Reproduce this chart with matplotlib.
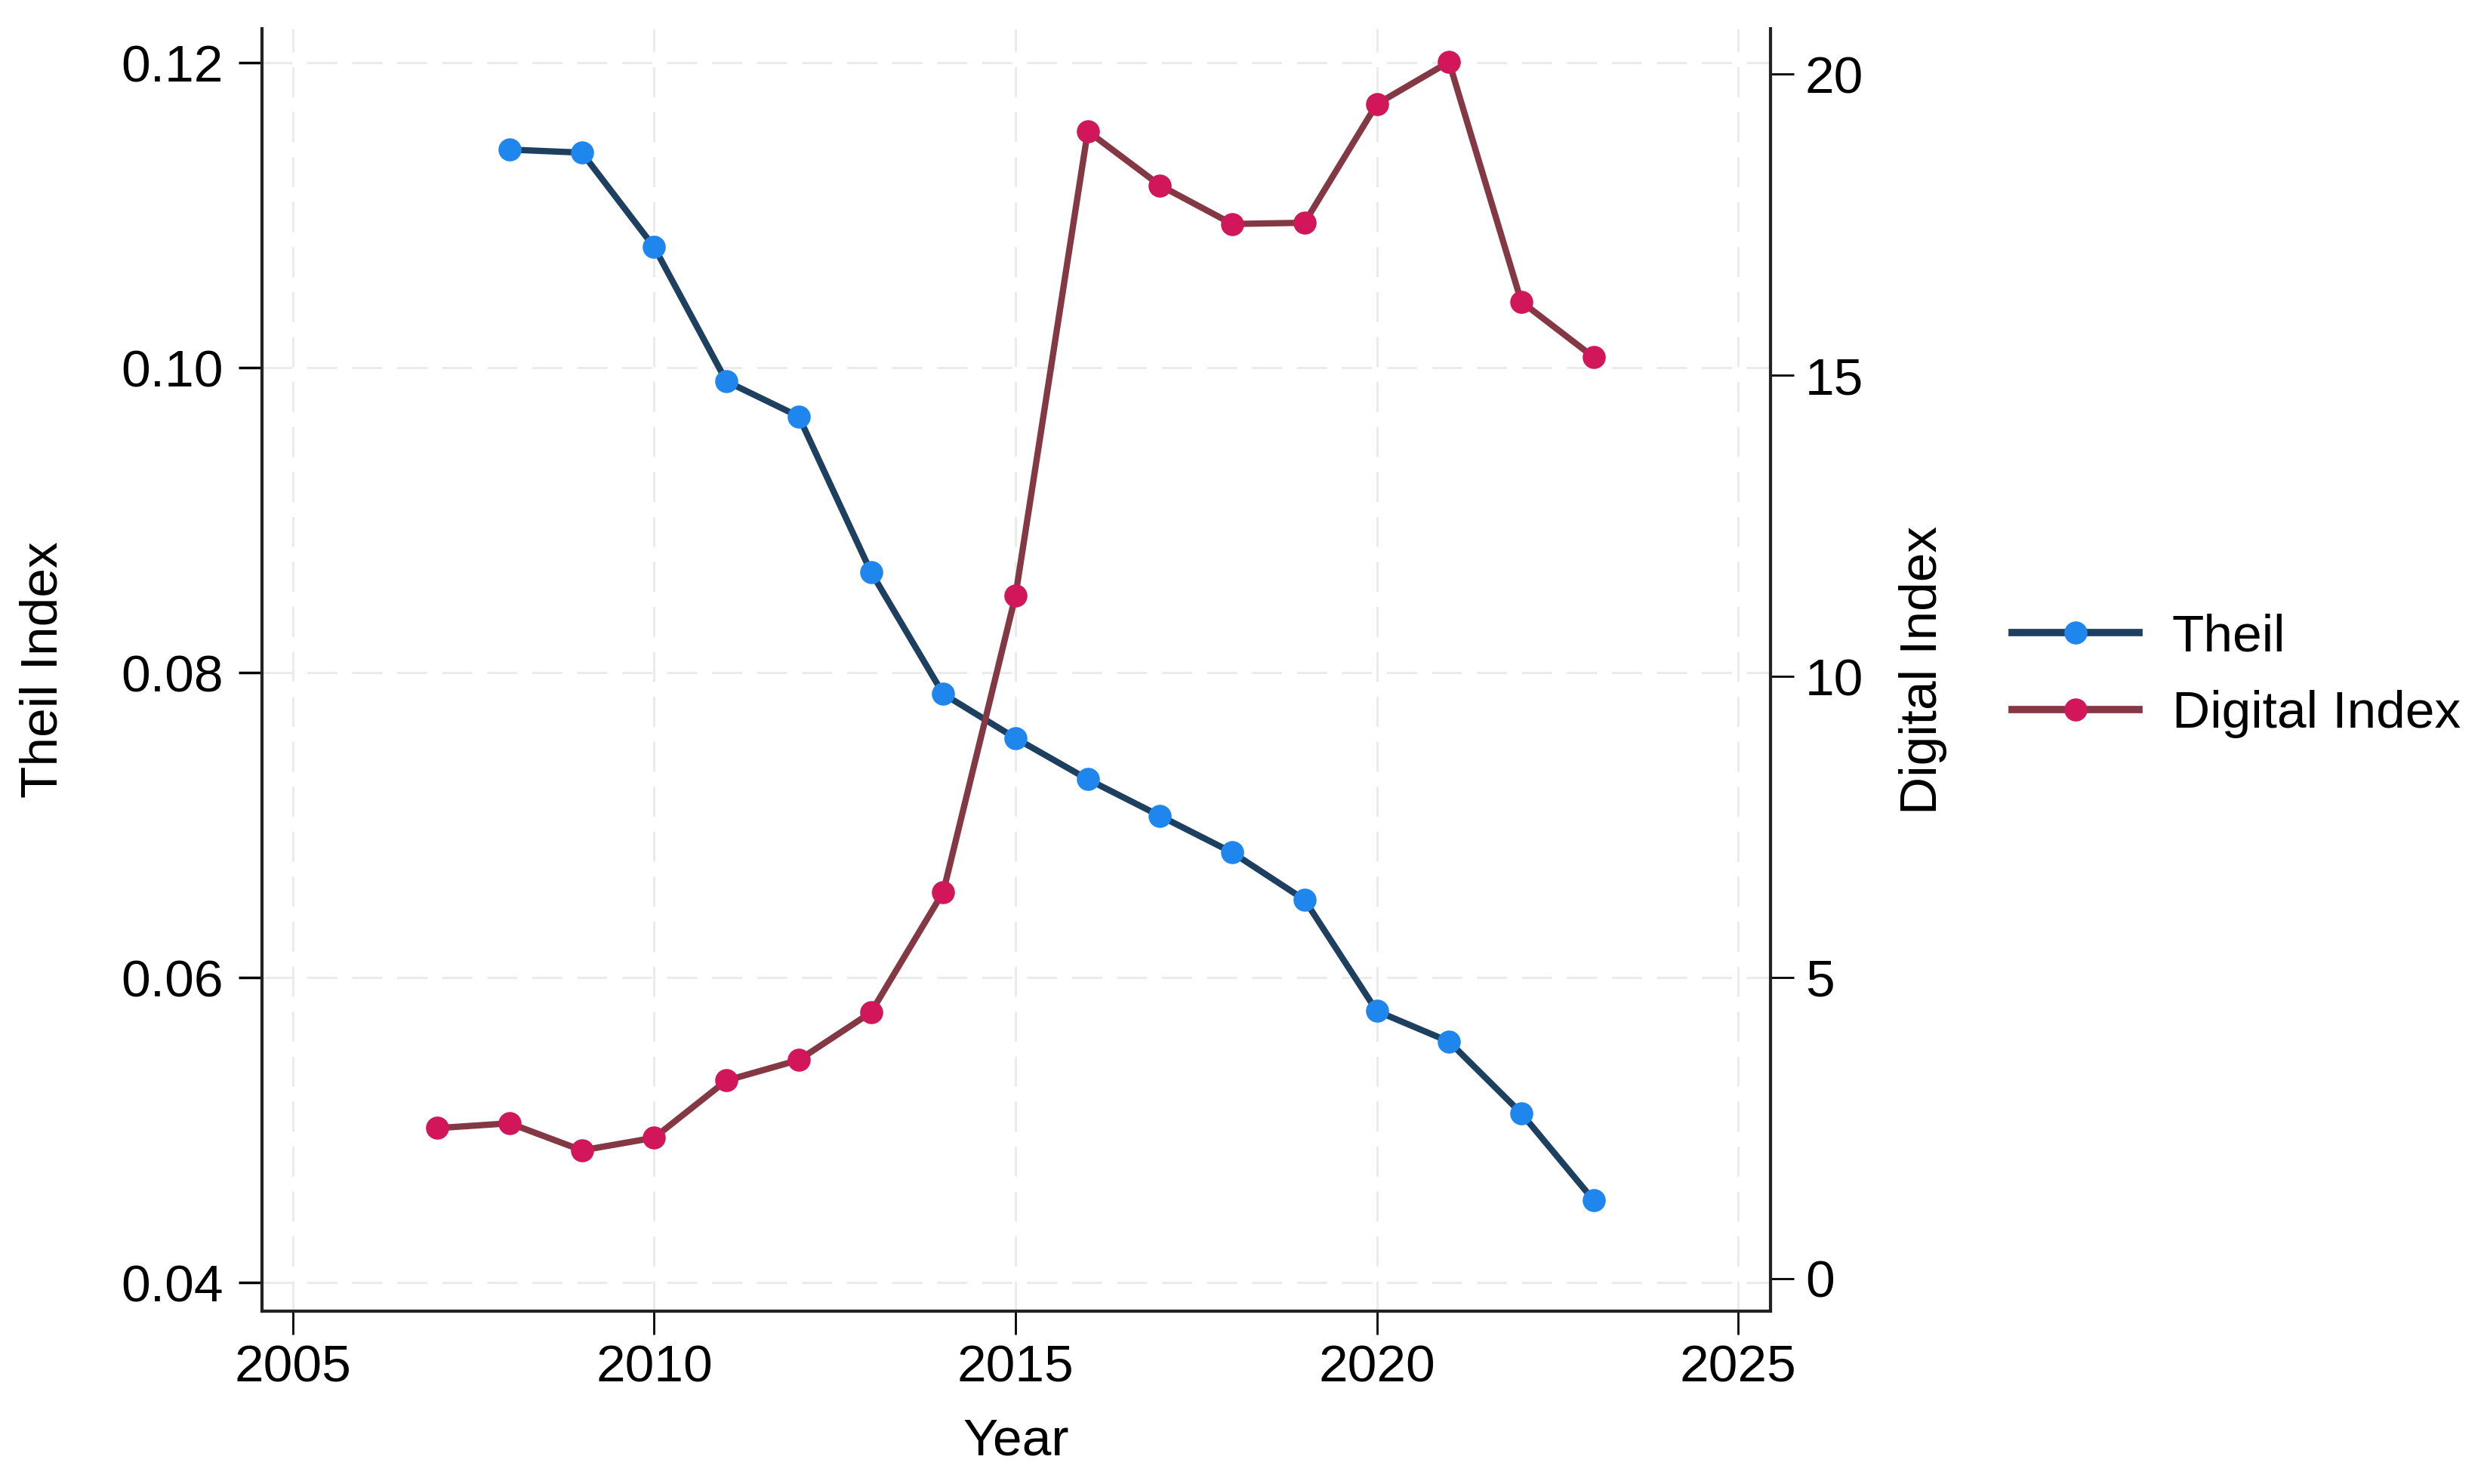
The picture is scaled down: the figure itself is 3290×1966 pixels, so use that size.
import matplotlib
matplotlib.use('Agg')
import matplotlib.pyplot as plt
from matplotlib.lines import Line2D

# data
theil_years = [2008, 2009, 2010, 2011, 2012, 2013, 2014, 2015,
               2016, 2017, 2018, 2019, 2020, 2021, 2022, 2023]
theil = [0.1143, 0.1141, 0.1079, 0.0991, 0.0968, 0.0866, 0.0786, 0.0757,
         0.0730, 0.0706, 0.0682, 0.0651, 0.0578, 0.0558, 0.0511, 0.0454]

digital_years = [2007, 2008, 2009, 2010, 2011, 2012, 2013, 2014, 2015,
                 2016, 2017, 2018, 2019, 2020, 2021, 2022, 2023]
digital = [2.50, 2.58, 2.13, 2.34, 3.29, 3.63, 4.42, 6.42, 11.34,
           19.05, 18.15, 17.51, 17.53, 19.50, 20.20, 16.22, 15.30]

x_ticks = [2005, 2010, 2015, 2020, 2025]
left_ticks = [0.04, 0.06, 0.08, 0.10, 0.12]
right_ticks = [0, 5, 10, 15, 20]

plt.rcParams['font.family'] = ['Liberation Sans', 'DejaVu Sans']
FS = 50
LW = 6
MS = 22

theil_line = '#1d3f60'
theil_mark = '#1f86ee'
dig_line = '#833843'
dig_mark = '#d2165a'

fig = plt.figure(figsize=(32.91, 19.66), dpi=100)
ax = fig.add_axes([0.10544, 0.11648, 0.60711, 0.86419])
ax2 = ax.twinx()

ax.plot(theil_years, theil, color=theil_line, lw=LW, marker='o', ms=MS,
        mfc=theil_mark, mec=theil_mark, mew=0, zorder=3)
ax2.plot(digital_years, digital, color=dig_line, lw=LW, marker='o', ms=MS,
         mfc=dig_mark, mec=dig_mark, mew=0, zorder=3)

ax.set_xlim(2004.572, 2025.449)
ax.set_ylim(0.03812, 0.12223)
ax2.set_ylim(-0.539, 20.752)

ax.set_xticks(x_ticks)
ax.set_yticks(left_ticks)
ax.set_yticklabels([f'{v:.2f}' for v in left_ticks])
ax2.set_yticks(right_ticks)

ax.grid(True, color='#ebebeb', lw=2.2, ls=(0, (13, 6.5)), zorder=0)

for a in (ax, ax2):
    for s in a.spines.values():
        s.set_linewidth(3)
        s.set_color('#222222')
    a.spines['top'].set_visible(False)
ax.spines['right'].set_visible(False)
ax2.spines['left'].set_visible(False)
ax2.spines['bottom'].set_visible(False)

ax.tick_params(axis='y', length=22, width=2.5, pad=15, labelsize=FS)
ax.tick_params(axis='x', length=22, width=2, pad=9, labelsize=FS)
ax2.tick_params(axis='y', length=22, width=2, pad=11, labelsize=FS)

ax.set_xlabel('Year', fontsize=FS, va='center')
ax.xaxis.set_label_coords(0.5, -0.1018)
ax.set_ylabel('Theil Index', fontsize=FS, va='center')
ax.yaxis.set_label_coords(-0.1451, 0.5)
ax2.set_ylabel('Digital Index', fontsize=FS, va='center')
ax2.yaxis.set_label_coords(1.1011, 0.5)

handles = [
    Line2D([], [], color=theil_line, lw=LW + 1, marker='o', ms=MS, mfc=theil_mark, mew=0),
    Line2D([], [], color=dig_line, lw=LW + 1, marker='o', ms=MS, mfc=dig_mark, mew=0),
]
fig.legend(handles, ['Theil', 'Digital Index'], loc='center left',
           bbox_to_anchor=(0.8098, 0.5446), frameon=False, fontsize=FS,
           handlelength=2.42, handletextpad=0.63, labelspacing=0.55,
           borderpad=0, borderaxespad=0)

fig.savefig('out.png', dpi=100)
